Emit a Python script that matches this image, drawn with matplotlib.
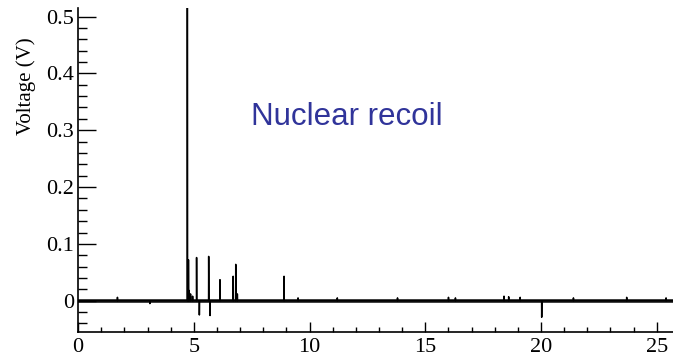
import matplotlib
matplotlib.use("Agg")
import matplotlib.pyplot as plt
import numpy as np
from matplotlib.ticker import MultipleLocator

# Pulse positions (x) and amplitudes (V)
spike_t = [4.72, 4.77, 4.80, 4.86, 4.95, 5.12, 5.24, 5.64, 5.70, 6.13, 6.70, 6.81, 6.88, 8.90, 20.03]
spike_v = [0.60, 0.072, 0.018, 0.012, 0.008, 0.076, -0.025, 0.078, -0.026, 0.037, 0.043, 0.064, 0.012, 0.043, -0.029]

# small baseline blips
blip_t = [1.7, 3.1, 9.5, 11.2, 13.8, 16.0, 16.3, 18.4, 18.6, 19.1, 21.4, 23.7, 25.4]
blip_v = [0.006, -0.005, 0.005, 0.005, 0.005, 0.006, 0.005, 0.008, 0.007, 0.006, 0.005, 0.006, 0.005]

x_major = [0, 5, 10, 15, 20, 25]
y_major = [0, 0.1, 0.2, 0.3, 0.4, 0.5]

plt.rcParams['font.family'] = ['Liberation Serif', 'DejaVu Serif']

fig = plt.figure(figsize=(6.73, 3.56), dpi=100)
ax = fig.add_axes([0.116, 0.0674, 0.884, 0.9101])

# build the trace as a baseline with pulses dropped in
t = np.linspace(0, 25.7, 6000)
v = np.zeros_like(t)
for ts, vs in zip(spike_t + blip_t, spike_v + blip_v):
    i = np.argmin(np.abs(t - ts))
    v[i] = vs

# noisy baseline band
ax.axhline(0, color='black', linewidth=2.6, alpha=0.9)
ax.plot(t, v, color='black', linewidth=1.1)

ax.set_xlim(0, 25.7)
ax.set_ylim(-0.055, 0.515)

ax.set_xticks(x_major)
ax.set_yticks(y_major)
ax.set_yticklabels(['0', '0.1', '0.2', '0.3', '0.4', '0.5'])
ax.xaxis.set_minor_locator(MultipleLocator(1))
ax.yaxis.set_minor_locator(MultipleLocator(0.02))

ax.spines['top'].set_visible(False)
ax.spines['right'].set_visible(False)
ax.spines['left'].set_linewidth(1.2)
ax.spines['bottom'].set_linewidth(1.2)

ax.tick_params(axis='both', which='both', direction='in', labelsize=16, width=1.0)
ax.tick_params(axis='y', which='major', length=13, pad=3)
ax.tick_params(axis='y', which='minor', length=6.5)
ax.tick_params(axis='x', which='major', length=7.2, pad=4)
ax.tick_params(axis='x', which='minor', length=3.6)

ax.set_ylabel('Voltage (V)', fontsize=15)
ax.yaxis.set_label_coords(-0.07, 0.76)

ax.text(7.45, 0.309, 'Nuclear recoil', color='#30349a', fontsize=22.5,
        family=['Liberation Sans', 'DejaVu Sans'])

fig.savefig('out.png', dpi=100)
